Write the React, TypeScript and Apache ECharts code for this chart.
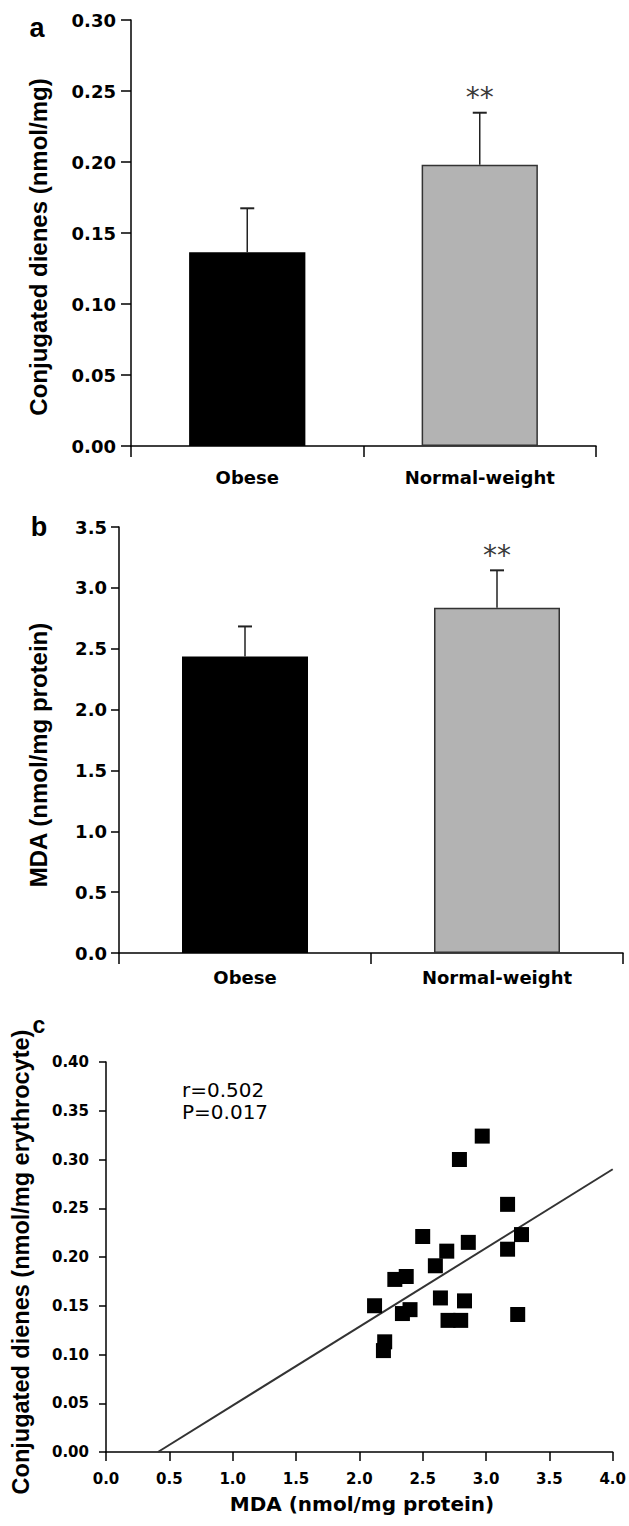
import React, { useEffect, useRef } from 'react';
import * as echarts from 'echarts';

// ---- data ----
const groups = ['Obese', 'Normal-weight'];
const dienesMean = [0.1364, 0.198];
const dienesSD = [0.031, 0.0367];
const mdaMean = [2.437, 2.837];
const mdaSD = [0.246, 0.307];
const significance = ['', '**'];

const dienesTicks = { min: 0, max: 0.3, step: 0.05 };
const mdaTicks = { min: 0, max: 3.5, step: 0.5 };
const scatterXTicks = { min: 0, max: 4, step: 0.5 };
const scatterYTicks = { min: 0, max: 0.4, step: 0.05 };

const mdaValues = [2.97, 2.79, 3.17, 3.28, 3.17, 2.5, 2.86, 2.69, 2.6, 2.37, 2.28, 2.12, 2.64, 2.83, 2.34, 2.4, 3.25, 2.7, 2.8, 2.2, 2.19];
const dienesValues = [0.324, 0.3, 0.254, 0.223, 0.208, 0.221, 0.215, 0.206, 0.191, 0.18, 0.177, 0.15, 0.158, 0.155, 0.142, 0.146, 0.141, 0.135, 0.135, 0.113, 0.104];
const fitLineX = [0.41, 4.0];
const fitLineY = [0, 0.29];
const statsLines = ['r=0.502', 'P=0.017'];

const titleA = 'Conjugated dienes (nmol/mg)';
const titleB = 'MDA (nmol/mg protein)';
const titleCY = 'Conjugated dienes (nmol/mg erythrocyte)';
const titleCX = 'MDA (nmol/mg protein)';

// ---- styles ----
const barFill = ['#000000', '#b3b3b3'];
const barBorder = ['#000000', '#333333'];
const TICK_FONT = 'DejaVu Sans';
const TITLE_FONT = 'Liberation Sans';

const axisLineStyle = { color: '#000', width: 1.5 };

function valueAxis(grid: number, t: any, digits: number, margin: number, tickLen: number, fontSize: number) {
  return {
    type: 'value',
    gridIndex: grid,
    min: t.min,
    max: t.max,
    interval: t.step,
    axisLine: { show: true, lineStyle: axisLineStyle },
    axisTick: { show: true, length: tickLen, lineStyle: axisLineStyle },
    splitLine: { show: false },
    axisLabel: {
      margin,
      formatter: (v: number) => v.toFixed(digits),
      fontFamily: TICK_FONT,
      fontWeight: 'bold',
      fontSize,
      color: '#000',
    },
  };
}

function catAxis(grid: number, margin: number) {
  return {
    type: 'category',
    gridIndex: grid,
    data: groups,
    axisLine: { show: true, lineStyle: axisLineStyle },
    axisTick: { show: true, length: 11, alignWithLabel: false, lineStyle: axisLineStyle },
    axisLabel: {
      margin,
      fontFamily: TICK_FONT,
      fontWeight: 'bold',
      fontSize: 18,
      color: '#000',
    },
  };
}

function barSeries(axis: number, means: number[]) {
  return {
    type: 'bar',
    xAxisIndex: axis,
    yAxisIndex: axis,
    barWidth: '50%',
    data: means.map((v, i) => ({
      value: v,
      itemStyle: { color: barFill[i], borderColor: barBorder[i], borderWidth: 1.5 },
    })),
    z: 2,
  };
}

function errorSeries(axis: number, means: number[], sds: number[]) {
  return {
    type: 'custom',
    xAxisIndex: axis,
    yAxisIndex: axis,
    z: 5,
    encode: { x: 0, y: 2 },
    data: means.map((m, i) => [i, m, m + sds[i], i]),
    renderItem: (params: any, api: any) => {
      const c = api.value(0);
      const base = api.coord([c, api.value(1)]);
      const top = api.coord([c, api.value(2)]);
      const sig = significance[api.value(3)];
      const children: any[] = [
        { type: 'line', shape: { x1: base[0], y1: base[1], x2: top[0], y2: top[1] }, style: { stroke: '#222', lineWidth: 1.5 } },
        { type: 'line', shape: { x1: top[0] - 7, y1: top[1], x2: top[0] + 7, y2: top[1] }, style: { stroke: '#222', lineWidth: 2 } },
      ];
      if (sig) {
        children.push({
          type: 'text',
          x: top[0],
          y: top[1] - 15,
          style: {
            text: sig,
            fontFamily: 'DejaVu Sans',
            fontSize: 28,
            fill: '#3a3a3a',
            align: 'center',
            verticalAlign: 'middle',
          },
        });
      }
      return { type: 'group', children };
    },
  };
}

function rotatedTitle(text: string, x: number, y: number, size: number) {
  return {
    type: 'text',
    x,
    y,
    rotation: Math.PI / 2,
    style: {
      text,
      font: `bold ${size}px "${TITLE_FONT}"`,
      fill: '#000',
      align: 'center',
      verticalAlign: 'middle',
      textAlign: 'center',
      textVerticalAlign: 'middle',
    },
  };
}

function panelLetter(text: string, x: number, y: number, size: number) {
  return {
    type: 'text',
    x,
    y,
    style: {
      text,
      font: `bold ${size}px "${TITLE_FONT}"`,
      fill: '#000',
      align: 'center',
      verticalAlign: 'middle',
      textAlign: 'center',
      textVerticalAlign: 'middle',
    },
  };
}

export default function App() {
  const ref = useRef<HTMLDivElement>(null);

  useEffect(() => {
    document.body.style.margin = '0';
    if (!ref.current) return;
    const chart = echarts.init(ref.current, undefined, { renderer: 'svg' });
    const option: any = {
      animation: false,
      backgroundColor: '#fff',
      grid: [
        { left: 131, top: 20, width: 465, height: 426 },
        { left: 119, top: 527, width: 504, height: 426 },
        { left: 106, top: 1062, width: 508, height: 390 },
      ],
      xAxis: [
        catAxis(0, 22),
        catAxis(1, 15),
        valueAxis(2, scatterXTicks, 1, 19, 9, 15),
      ],
      yAxis: [
        valueAxis(0, dienesTicks, 2, 15, 10, 18),
        valueAxis(1, mdaTicks, 1, 12, 8, 18),
        valueAxis(2, scatterYTicks, 2, 17, 7, 15),
      ],
      series: [
        barSeries(0, dienesMean),
        errorSeries(0, dienesMean, dienesSD),
        barSeries(1, mdaMean),
        errorSeries(1, mdaMean, mdaSD),
        {
          type: 'line',
          xAxisIndex: 2,
          yAxisIndex: 2,
          data: fitLineX.map((x, i) => [x, fitLineY[i]]),
          showSymbol: false,
          symbol: 'none',
          lineStyle: { color: '#333', width: 2 },
          z: 2,
        },
        {
          type: 'scatter',
          xAxisIndex: 2,
          yAxisIndex: 2,
          symbol: 'rect',
          symbolSize: 15,
          itemStyle: { color: '#000', opacity: 1 },
          data: mdaValues.map((x, i) => [x, dienesValues[i]]),
          z: 3,
        },
      ],
      graphic: [
        panelLetter('a', 37, 28, 27),
        panelLetter('b', 39, 527, 27),
        panelLetter('c', 39, 1025, 23),
        rotatedTitle(titleA, 38, 247, 24),
        rotatedTitle(titleB, 38, 755, 24),
        rotatedTitle(titleCY, 21, 1262, 23.5),
        {
          type: 'text',
          x: 362,
          y: 1504,
          style: {
            text: titleCX,
            font: `bold 20px "${TICK_FONT}"`,
            fill: '#000',
            align: 'center',
            verticalAlign: 'middle',
          },
        },
        {
          type: 'text',
          x: 182,
          y: 1079,
          style: {
            text: statsLines.join('\n'),
            font: `20px "DejaVu Sans"`,
            lineHeight: 22,
            fill: '#000',
            align: 'left',
            verticalAlign: 'top',
          },
        },
      ],
    };
    chart.setOption(option);
    return () => chart.dispose();
  }, []);

  return (
    <div
      ref={ref}
      style={{ position: 'absolute', left: 0, top: 0, width: 629, height: 1526, background: '#fff' }}
    />
  );
}
